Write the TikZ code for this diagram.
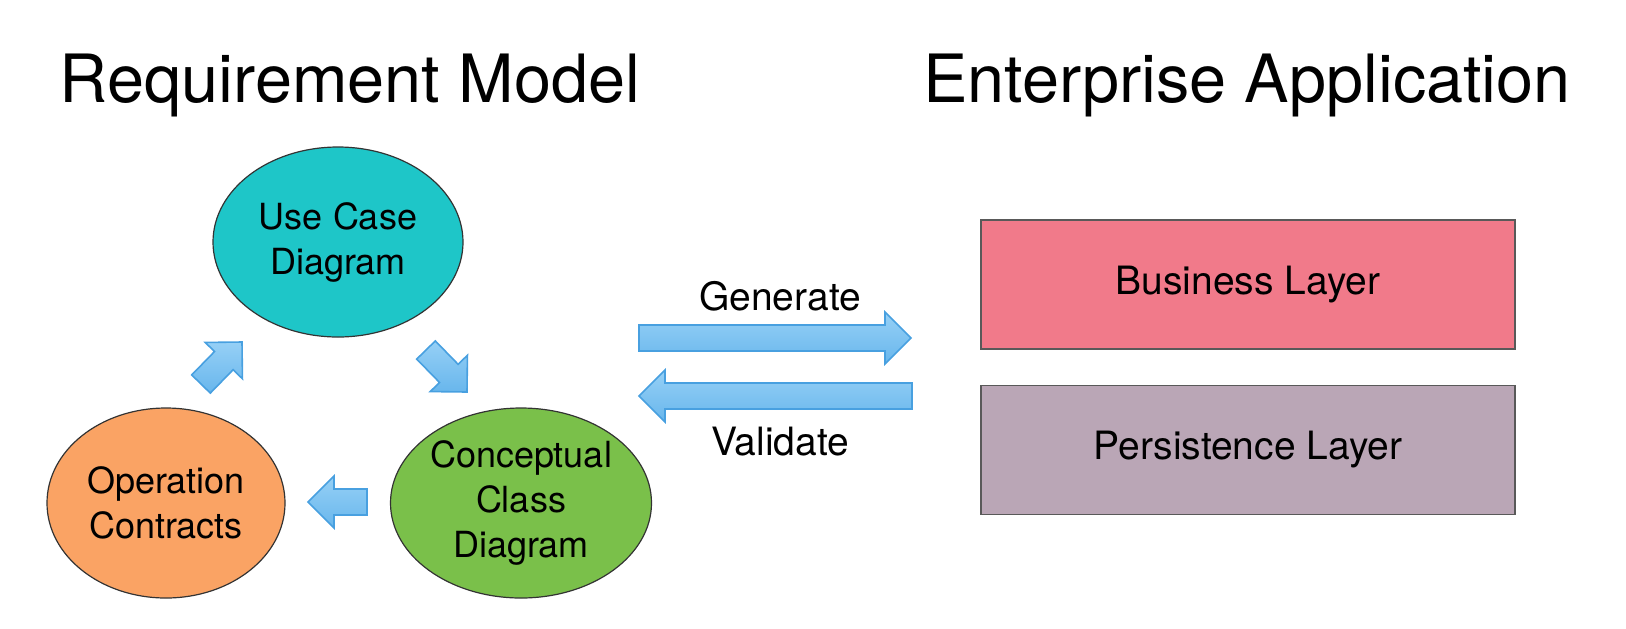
\documentclass[tikz,border=0pt]{standalone}
\usepackage{fontspec}
\setmainfont{TeX Gyre Heros}
\usetikzlibrary{shapes.geometric,calc}

\definecolor{usecase}{RGB}{30,198,200}
\definecolor{contract}{RGB}{250,163,100}
\definecolor{concept}{RGB}{122,192,74}
\definecolor{business}{RGB}{241,122,138}
\definecolor{persist}{RGB}{186,166,182}
\definecolor{arrowtop}{RGB}{150,208,246}
\definecolor{arrowbot}{RGB}{104,182,236}
\definecolor{arrowline}{RGB}{72,160,224}

\tikzset{
  heading/.style={anchor=base,font=\fontsize{33.3}{40}\selectfont},
  bubble/.style={ellipse,draw=black!80,line width=0.6pt,inner sep=0pt,align=center,
    minimum height=95pt,font=\fontsize{18}{22.5}\selectfont},
  layer/.style={rectangle,draw=black!65,line width=0.8pt,minimum width=267pt,
    minimum height=64.5pt,font=\fontsize{19.5}{23}\selectfont},
  arrowtext/.style={anchor=base,font=\fontsize{19.5}{23}\selectfont},
  blockarrow/.style={draw=arrowline,line width=0.8pt,top color=arrowtop,
    bottom color=arrowbot,line join=miter}
}

% fat arrow from #1 to #2
\newcommand{\flowarrow}[2]{%
  \coordinate (neck) at ($(#2)!13pt!(#1)$);
  \draw[blockarrow] ($(#1)!6.5pt!90:(#2)$) -- ($(neck)!6.5pt!90:(#2)$)
    -- ($(neck)!13pt!90:(#2)$) -- (#2) -- ($(neck)!13pt!-90:(#2)$)
    -- ($(neck)!6.5pt!-90:(#2)$) -- ($(#1)!6.5pt!-90:(#2)$) -- cycle;
}

\begin{document}
\begin{tikzpicture}[x=0.5pt,y=-0.5pt]
\useasboundingbox (0,0) rectangle (1626,628);

\node[heading] (reqtitle) at (350,102) {Requirement Model};
\node[heading] (enttitle) at (1247,102) {Enterprise Application};

% requirement model
\node[bubble,fill=usecase,minimum width=125pt] (usecase) at (338,242) {Use Case\\Diagram};
\node[bubble,fill=contract,minimum width=119pt] (contracts) at (166,503) {Operation\\Contracts};
\node[bubble,fill=concept,minimum width=130.5pt] (classdiag) at (521,503) {Conceptual\\Class\\Diagram};

\coordinate (ne-tail) at (201,384);
\coordinate (ne-tip) at (242,342);
\coordinate (se-tail) at (426,350);
\coordinate (se-tip) at (467,392);
\coordinate (w-tail) at (367,502);
\coordinate (w-tip) at (308,502);
\flowarrow{ne-tail}{ne-tip}
\flowarrow{se-tail}{se-tip}
\flowarrow{w-tail}{w-tip}

% enterprise application
\node[layer,fill=business] (buslayer) at (1248,284.5) {Business Layer};
\node[layer,fill=persist] (perlayer) at (1248,450) {Persistence Layer};

\coordinate (gen-tail) at (639,338);
\coordinate (gen-tip) at (911,338);
\coordinate (val-tail) at (912,396);
\coordinate (val-tip) at (639,396);
\flowarrow{gen-tail}{gen-tip}
\flowarrow{val-tail}{val-tip}
\node[arrowtext] (gentext) at (780,310) {Generate};
\node[arrowtext] (valtext) at (780,455) {Validate};

\end{tikzpicture}
\end{document}
